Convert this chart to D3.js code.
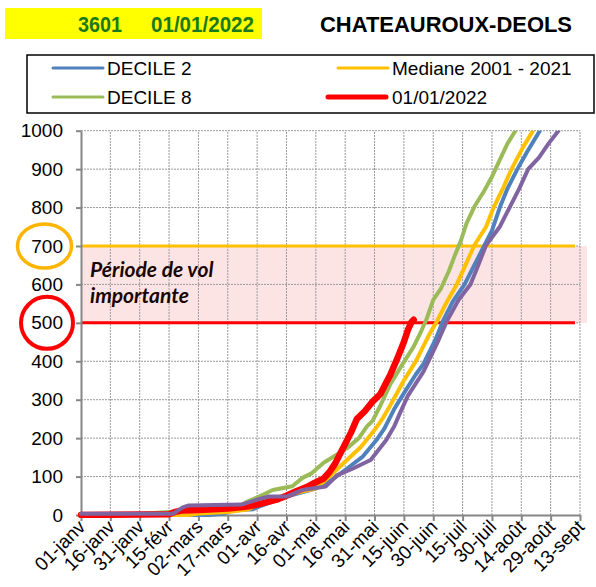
<!DOCTYPE html>
<html>
<head>
<meta charset="utf-8">
<script src="https://cdn.jsdelivr.net/npm/d3@7"></script>
<style>
    body { margin: 0; background: #ffffff; }
    svg { display: block; font-family: 'Liberation Sans', Arial, sans-serif; }
</style>
</head>
<body>
<div id="chart"></div>
<script>

// Station / date
var station_code = '3601';
var station_date = '01/01/2022';
var station_name = 'CHATEAUROUX-DEOLS';

// Axis ticks (x in days since 01-janv)
var x_ticks = [ 0, 15, 30, 45, 60, 75, 90, 105, 120, 135, 150, 165, 180, 195, 210, 225, 240, 255 ];
var x_labels = [ '01-janv', '16-janv', '31-janv', '15-févr', '02-mars', '17-mars', '01-avr', '16-avr',
    '01-mai', '16-mai', '31-mai', '15-juin', '30-juin', '15-juil', '30-juil', '14-août', '29-août', '13-sept' ];
var y_ticks = [ 0, 100, 200, 300, 400, 500, 600, 700, 800, 900, 1000 ];

// Flight period thresholds
var seuil_bas = 500;
var seuil_haut = 700;
var periode_text = [ 'Période de vol', 'importante' ];

// Series as [ day, cumulated value ]
var decile_2 = [ [0,0],[65,0],[72,3],[78,12],[88,15],[92,24],[98,35],[105,48],[112,58],[120,69],[128,91],
    [136,121],[144,152],[151,195],[155,225],[160,275],[166,325],[171,365],[175,393],[181,455],[185,505],
    [190,555],[196,600],[201,650],[206,700],[210,740],[214,800],[218,850],[223,900],[228,945],[234.5,1000] ];

var mediane = [ [0,0],[55,0],[60,4],[75,8],[85,14],[92,30],[105,52],[120,69],[127,100],[134,134],[143,177],
    [150,221],[154,250],[158,285],[165,350],[171,399],[178,470],[182,505],[187,555],[192,600],[196,645],
    [201,702],[207,750],[211,802],[216,854],[220,900],[226,958],[231,1000] ];

var decile_8 = [ [0,0],[30,0],[33,4],[45,8],[55,12],[70,14],[80,20],[85,35],[91,48],[98,65],[102,69],
    [108,75],[113,96],[118,109],[124,136],[130,155],[136,174],[142,200],[146,230],[149,245],[153,285],
    [158,340],[164,390],[170,438],[174,480],[176.6,510],[180,560],[184,590],[188,635],[191,675],[194,712],
    [197,759],[201,802],[206,843],[210,880],[214,924],[218,967],[222,1000] ];

var annee_2022 = [ [0,0],[45,2],[48,8],[52,12],[60,13],[75,17],[85,22],[90,27],[100,40],[105,50],[110,62],
    [115,72],[118,80],[122,90],[124,95],[127,112],[130,135],[134,175],[138,215],[141,250],[145,270],
    [149,295],[153,315],[156,345],[158,364],[162,412],[165,450],[167,481],[169,503],[170,508] ];

var courbe_5 = [ [0,3],[47,3],[52,20],[55,25],[82,27],[90,40],[96,48],[105,48],[113,65],[125,74],[131,104],
    [139,121],[148,143],[156,195],[160,230],[163,265],[167,310],[175,373],[182,447],[187,505],[193,560],
    [199,600],[203,650],[207,702],[214,750],[219,800],[224,850],[228.5,900],[234,930],[239,967],[244,1000] ];

var series_order = [
    { name: 'DECILE 2', data: decile_2, color: '#4f81bd', width: 4 },
    { name: 'Mediane 2001 - 2021', data: mediane, color: '#ffc000', width: 4 },
    { name: 'DECILE 8', data: decile_8, color: '#9bbb59', width: 4 },
    { name: '01/01/2022', data: annee_2022, color: '#ff0000', width: 6.5 },
    { name: null, data: courbe_5, color: '#8064a2', width: 4 }
];

var legend_items = [
    { name: 'DECILE 2', color: '#4f81bd', width: 3, col: 0, row: 0 },
    { name: 'Mediane 2001 - 2021', color: '#ffc000', width: 3, col: 1, row: 0 },
    { name: 'DECILE 8', color: '#9bbb59', width: 3, col: 0, row: 1 },
    { name: '01/01/2022', color: '#ff0000', width: 5, col: 1, row: 1 }
];

var _width = 596;
var _height = 587;

var _svg = d3.select( '#chart' ).append( 'svg' )
    .attr( 'width', _width )
    .attr( 'height', _height );

var x = d3.scaleLinear().domain( [ 0, 255 ] ).range( [ 81, 580 ] );
var y = d3.scaleLinear().domain( [ 0, 1000 ] ).range( [ 515, 130.7 ] );

draw_header();
draw_legend();
draw_plot();
draw_annotations();

function draw_header () {

    _svg.append( 'rect' )
        .attr( 'x', 5 ).attr( 'y', 8 )
        .attr( 'width', 257 ).attr( 'height', 31 )
        .attr( 'fill', '#ffff00' );

    _svg.append( 'text' )
        .attr( 'x', 78 ).attr( 'y', 32 )
        .attr( 'font-size', '22px' ).attr( 'font-weight', 'bold' )
        .attr( 'fill', '#1a7a1a' )
        .attr( 'textLength', 44 ).attr( 'lengthAdjust', 'spacingAndGlyphs' )
        .text( station_code );

    _svg.append( 'text' )
        .attr( 'x', 151 ).attr( 'y', 32 )
        .attr( 'font-size', '22px' ).attr( 'font-weight', 'bold' )
        .attr( 'fill', '#1a7a1a' )
        .attr( 'textLength', 103 ).attr( 'lengthAdjust', 'spacingAndGlyphs' )
        .text( station_date );

    _svg.append( 'text' )
        .attr( 'x', 320 ).attr( 'y', 32 )
        .attr( 'font-size', '22px' ).attr( 'font-weight', 'bold' )
        .attr( 'fill', '#000000' )
        .attr( 'textLength', 252 ).attr( 'lengthAdjust', 'spacingAndGlyphs' )
        .text( station_name );

}

function draw_legend () {

    _svg.append( 'rect' )
        .attr( 'x', 27 ).attr( 'y', 55 )
        .attr( 'width', 567 ).attr( 'height', 58 )
        .attr( 'fill', 'none' )
        .attr( 'stroke', '#000000' )
        .attr( 'stroke-width', 1.5 );

    var cols = [ { x1: 53, x2: 103, tx: 107 }, { x1: 338, x2: 388, tx: 392 } ];
    var rows = [ 68, 97 ];

    var item = _svg.selectAll( '.legend-item' )
        .data( legend_items )
        .enter().append( 'g' )
        .attr( 'class', 'legend-item' );

    item.append( 'line' )
        .attr( 'x1', function ( d ) { return d.width > 3 ? cols[ d.col ].x1 - 10 : cols[ d.col ].x1; } )
        .attr( 'x2', function ( d ) { return cols[ d.col ].x2 - ( d.width > 3 ? 2 : 0 ); } )
        .attr( 'y1', function ( d ) { return rows[ d.row ]; } )
        .attr( 'y2', function ( d ) { return rows[ d.row ]; } )
        .attr( 'stroke', function ( d ) { return d.color; } )
        .attr( 'stroke-width', function ( d ) { return d.width; } )
        .attr( 'stroke-linecap', 'round' );

    item.append( 'text' )
        .attr( 'x', function ( d ) { return cols[ d.col ].tx; } )
        .attr( 'y', function ( d ) { return rows[ d.row ] + 7; } )
        .attr( 'font-size', '19px' )
        .attr( 'fill', '#000000' )
        .text( function ( d ) { return d.name; } );

}

function draw_plot () {

    var x0 = x.range()[ 0 ];
    var x1 = x.range()[ 1 ];

    // Flight period band
    _svg.append( 'rect' )
        .attr( 'x', x0 )
        .attr( 'y', y( seuil_haut ) )
        .attr( 'width', x1 + 7 - x0 )
        .attr( 'height', y( seuil_bas ) - y( seuil_haut ) )
        .attr( 'fill', '#fde4e4' );

    // Grid
    var grid = _svg.append( 'g' )
        .attr( 'stroke', '#9a9a9a' )
        .attr( 'stroke-width', 1 )
        .attr( 'stroke-dasharray', '2,1' );

    grid.selectAll( '.vgrid' )
        .data( x_ticks.slice( 1 ) )
        .enter().append( 'line' )
        .attr( 'x1', function ( d ) { return x( d ); } )
        .attr( 'x2', function ( d ) { return x( d ); } )
        .attr( 'y1', y( 0 ) )
        .attr( 'y2', y( 1000 ) );

    grid.selectAll( '.hgrid' )
        .data( y_ticks.slice( 1 ) )
        .enter().append( 'line' )
        .attr( 'x1', x0 )
        .attr( 'x2', x1 )
        .attr( 'y1', function ( d ) { return y( d ); } )
        .attr( 'y2', function ( d ) { return y( d ); } );

    // Threshold lines
    _svg.append( 'line' )
        .attr( 'x1', x0 ).attr( 'x2', x1 - 5 )
        .attr( 'y1', y( seuil_haut ) ).attr( 'y2', y( seuil_haut ) )
        .attr( 'stroke', '#ffc000' ).attr( 'stroke-width', 3 );

    _svg.append( 'line' )
        .attr( 'x1', x0 ).attr( 'x2', x1 - 5 )
        .attr( 'y1', y( seuil_bas ) ).attr( 'y2', y( seuil_bas ) )
        .attr( 'stroke', '#ff0000' ).attr( 'stroke-width', 3 );

    // Axes
    var y_axis = _svg.append( 'g' )
        .attr( 'transform', 'translate(' + x0 + ',0)' )
        .call( d3.axisLeft( y ).tickValues( y_ticks ).tickSize( 5 ).tickSizeOuter( 0 ).tickPadding( 13 )
            .tickFormat( d3.format( 'd' ) ) );

    y_axis.selectAll( 'text' )
        .attr( 'font-size', '19px' )
        .attr( 'font-family', "'Liberation Sans', Arial, sans-serif" )
        .attr( 'fill', '#000000' );

    var x_axis = _svg.append( 'g' )
        .attr( 'transform', 'translate(0,' + y( 0 ) + ')' )
        .call( d3.axisBottom( x ).tickValues( x_ticks ).tickSize( 6 ).tickSizeOuter( 0 )
            .tickFormat( function ( d, i ) { return x_labels[ i ]; } ) );

    x_axis.selectAll( 'text' )
        .attr( 'font-size', '19px' )
        .attr( 'font-family', "'Liberation Sans', Arial, sans-serif" )
        .attr( 'fill', '#000000' )
        .attr( 'text-anchor', 'end' )
        .attr( 'dy', null )
        .attr( 'y', 0 )
        .attr( 'transform', 'translate(5,13) rotate(-45)' );

    _svg.selectAll( '.domain, .tick line' )
        .attr( 'stroke', '#868686' )
        .attr( 'stroke-width', 2 );

    // Curves, clipped to the plot area
    _svg.append( 'clipPath' ).attr( 'id', 'plot-clip' )
        .append( 'rect' )
        .attr( 'x', x0 - 4 ).attr( 'y', y( 1000 ) )
        .attr( 'width', x1 - x0 + 8 ).attr( 'height', y( 0 ) - y( 1000 ) + 3 );

    var line = d3.line()
        .x( function ( d ) { return x( d[ 0 ] ); } )
        .y( function ( d ) { return y( d[ 1 ] ); } );

    _svg.append( 'g' )
        .attr( 'clip-path', 'url(#plot-clip)' )
        .selectAll( 'path' )
        .data( series_order )
        .enter().append( 'path' )
        .attr( 'd', function ( d ) { return line( d.data ); } )
        .attr( 'fill', 'none' )
        .attr( 'stroke', function ( d ) { return d.color; } )
        .attr( 'stroke-width', function ( d ) { return d.width; } )
        .attr( 'stroke-linejoin', 'round' )
        .attr( 'stroke-linecap', 'round' );

}

function draw_annotations () {

    _svg.selectAll( '.periode' )
        .data( periode_text )
        .enter().append( 'text' )
        .attr( 'x', 90 )
        .attr( 'y', function ( d, i ) { return 277 + i * 26; } )
        .attr( 'font-family', 'Lato, sans-serif' )
        .attr( 'font-size', '21px' )
        .attr( 'font-weight', 'bold' )
        .attr( 'font-style', 'italic' )
        .attr( 'fill', '#1a0505' )
        .text( function ( d ) { return d; } );

    // Circles around the thresholds
    _svg.append( 'ellipse' )
        .attr( 'cx', 44.5 ).attr( 'cy', y( seuil_haut ) )
        .attr( 'rx', 27 ).attr( 'ry', 22 )
        .attr( 'fill', 'none' )
        .attr( 'stroke', '#ffb400' )
        .attr( 'stroke-width', 3.5 );

    _svg.append( 'ellipse' )
        .attr( 'cx', 47 ).attr( 'cy', y( seuil_bas ) )
        .attr( 'rx', 26 ).attr( 'ry', 26 )
        .attr( 'fill', 'none' )
        .attr( 'stroke', '#ff0000' )
        .attr( 'stroke-width', 4 );

}

</script>
</body>
</html>
